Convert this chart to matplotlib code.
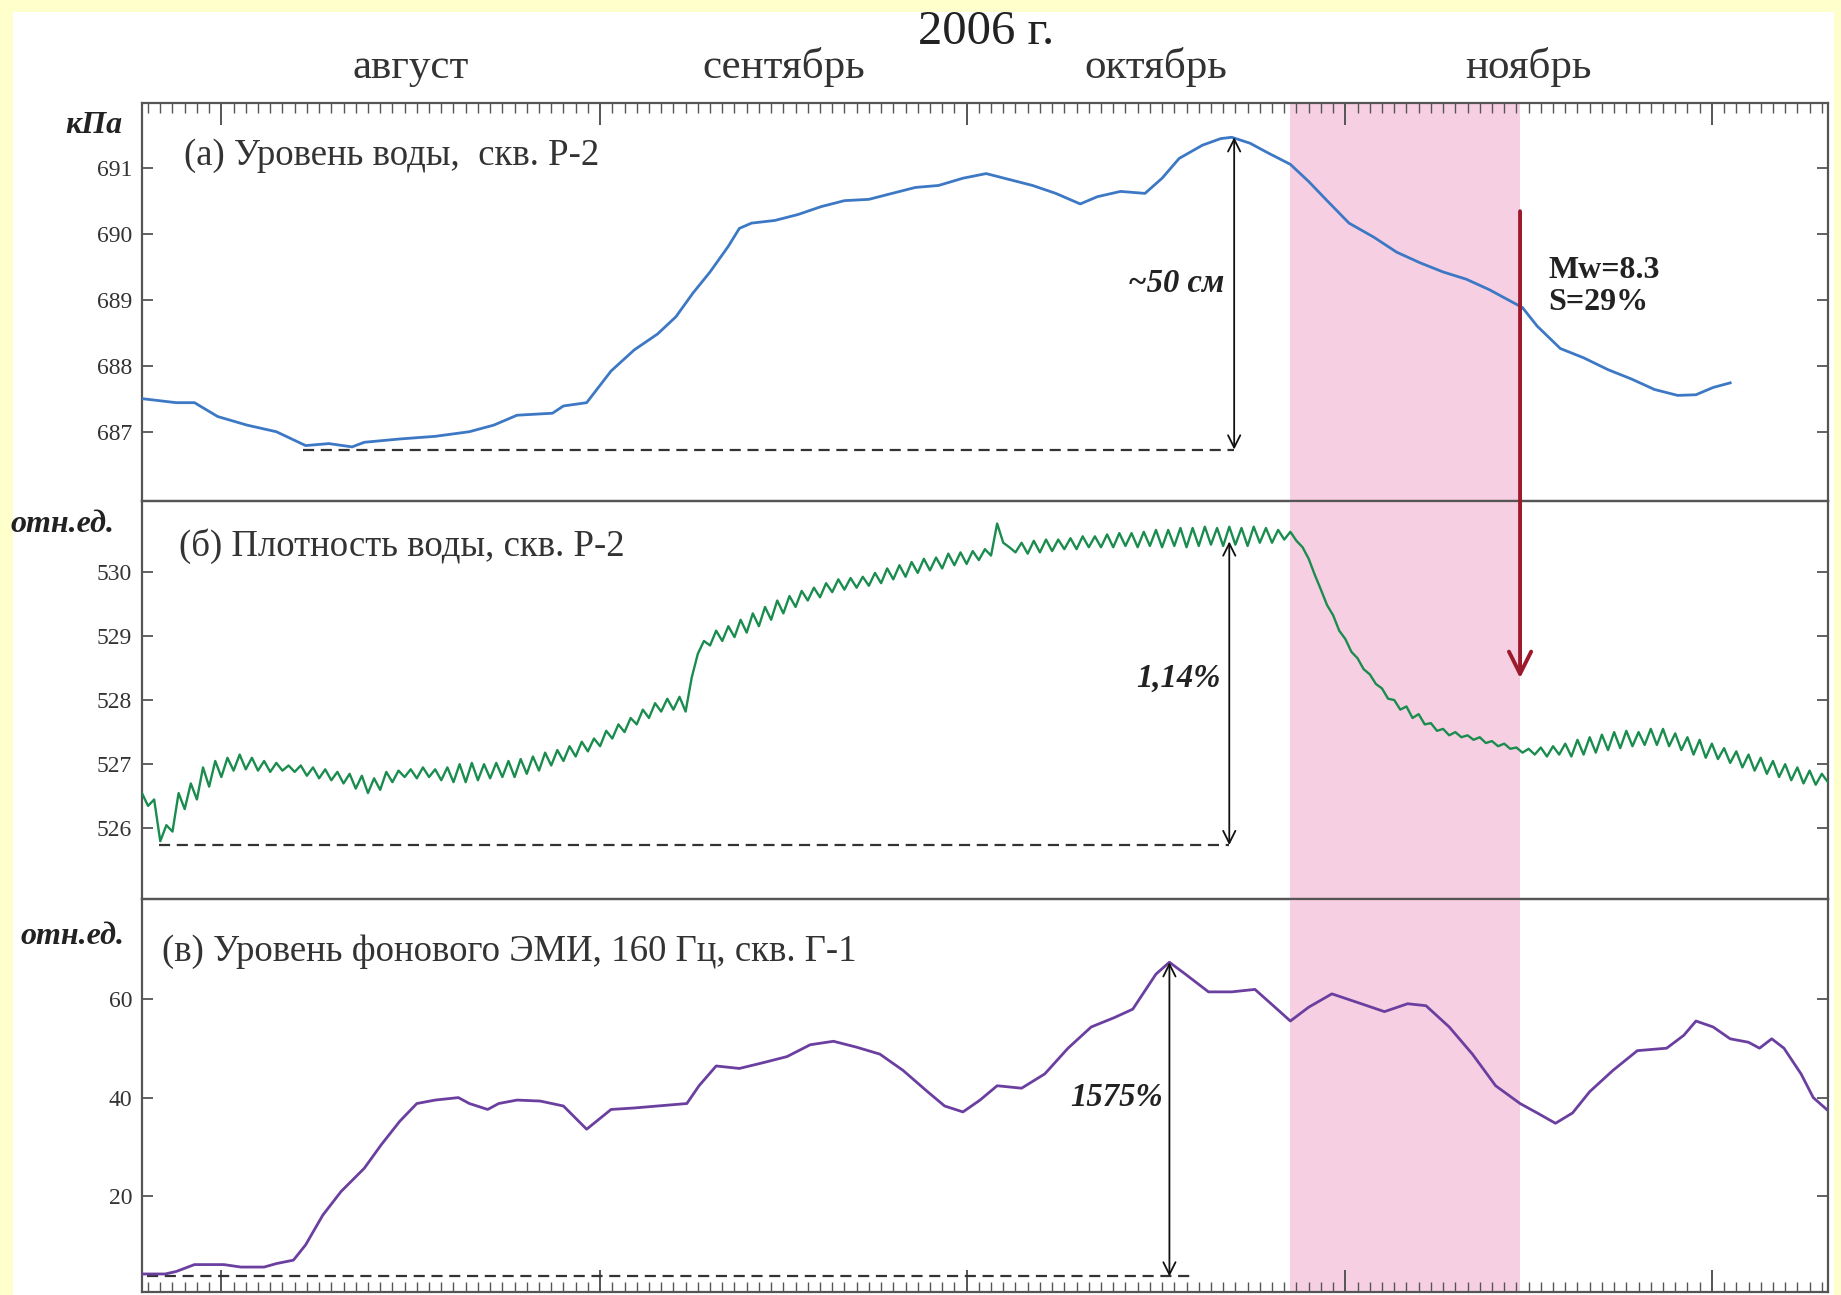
import numpy as np
import matplotlib.pyplot as plt
from matplotlib.patches import Rectangle, ConnectionPatch
from matplotlib.ticker import FixedLocator, MultipleLocator

plt.rcParams['font.family'] = ['Liberation Serif', 'DejaVu Serif']

# time axis: days counted from 1 August 2006
month_starts = [0, 31, 61, 92, 122]
month_names = ["август", "сентябрь", "октябрь", "ноябрь"]
year_label = "2006 г."
x_min, x_max = -6.5, 131.5

# (a) water level, kPa
level_days = [-6.45, -3.7, -2.2, -0.3, 2.1, 4.5, 6.9, 8.8, 10.7, 11.7, 14.6, 17.5, 20.3, 22.3, 24.2,
              27.1, 28.0, 29.9, 30.9, 31.9, 33.8, 35.7, 37.2, 38.6, 40.0, 41.5, 42.4, 43.4, 45.3,
              47.2, 49.1, 51.0, 53.0, 54.9, 56.8, 58.7, 60.7, 62.6, 64.5, 66.4, 68.3, 70.3, 71.7,
              73.6, 75.6, 77.0, 78.4, 80.3, 81.8, 82.7, 84.2, 85.6, 87.5, 89.0, 90.4, 92.3, 94.3,
              96.2, 98.1, 100.0, 101.9, 103.8, 106.5, 107.7, 109.6, 111.5, 113.5, 115.4, 117.3,
              119.2, 120.7, 122.1, 123.5]
level_kpa = [687.50, 687.44, 687.44, 687.23, 687.10, 687.00, 686.79, 686.82, 686.77, 686.84, 686.89,
             686.93, 687.00, 687.10, 687.25, 687.28, 687.39, 687.44, 687.68, 687.92, 688.24, 688.48,
             688.74, 689.10, 689.42, 689.81, 690.08, 690.16, 690.20, 690.29, 690.41, 690.50, 690.52,
             690.61, 690.70, 690.73, 690.84, 690.91, 690.82, 690.73, 690.61, 690.45, 690.56, 690.64,
             690.61, 690.84, 691.14, 691.34, 691.44, 691.46, 691.37, 691.23, 691.05, 690.79, 690.52,
             690.16, 689.95, 689.72, 689.56, 689.42, 689.31, 689.15, 688.88, 688.60, 688.26, 688.12,
             687.94, 687.80, 687.64, 687.55, 687.56, 687.67, 687.74]

# (b) water density, rel. units, sampled every half day from day -6.5
dens_start, dens_step = -6.5, 0.5
density = [
    526.55, 526.35, 526.45, 525.80, 526.05, 525.95, 526.55, 526.30, 526.70, 526.45,
    526.95, 526.65, 527.05, 526.80, 527.10, 526.90, 527.15, 526.92, 527.10, 526.90,
    527.05, 526.88, 527.02, 526.90, 526.98, 526.88, 526.98, 526.82, 526.95, 526.78,
    526.92, 526.75, 526.88, 526.70, 526.85, 526.62, 526.82, 526.55, 526.78, 526.60,
    526.88, 526.72, 526.90, 526.80, 526.92, 526.78, 526.95, 526.80, 526.92, 526.75,
    526.95, 526.72, 527.00, 526.72, 527.02, 526.75, 527.00, 526.78, 527.02, 526.80,
    527.05, 526.80, 527.08, 526.85, 527.12, 526.90, 527.18, 526.98, 527.22, 527.05,
    527.28, 527.12, 527.35, 527.20, 527.40, 527.28, 527.52, 527.40, 527.62, 527.50,
    527.72, 527.62, 527.85, 527.72, 527.95, 527.82, 528.02, 527.85, 528.05, 527.82,
    528.35, 528.72, 528.92, 528.85, 529.08, 528.92, 529.15, 528.98, 529.25, 529.05,
    529.35, 529.15, 529.45, 529.25, 529.55, 529.35, 529.62, 529.45, 529.70, 529.55,
    529.75, 529.60, 529.82, 529.68, 529.88, 529.72, 529.90, 529.75, 529.92, 529.78,
    529.98, 529.82, 530.05, 529.88, 530.10, 529.92, 530.15, 529.98, 530.20, 530.02,
    530.22, 530.05, 530.28, 530.10, 530.30, 530.12, 530.32, 530.18, 530.35, 530.25,
    530.75, 530.45, 530.38, 530.30, 530.45, 530.28, 530.48, 530.30, 530.50, 530.32,
    530.50, 530.35, 530.52, 530.35, 530.55, 530.38, 530.55, 530.38, 530.58, 530.38,
    530.60, 530.40, 530.60, 530.38, 530.62, 530.40, 530.65, 530.38, 530.65, 530.40,
    530.68, 530.38, 530.68, 530.40, 530.70, 530.42, 530.68, 530.40, 530.70, 530.42,
    530.68, 530.40, 530.70, 530.45, 530.68, 530.45, 530.65, 530.50, 530.62, 530.48,
    530.38, 530.20, 529.95, 529.72, 529.48, 529.32, 529.08, 528.95, 528.75, 528.65,
    528.48, 528.40, 528.25, 528.18, 528.02, 528.00, 527.85, 527.90, 527.72, 527.78,
    527.62, 527.64, 527.52, 527.55, 527.45, 527.50, 527.42, 527.45, 527.38, 527.42,
    527.33, 527.36, 527.28, 527.32, 527.24, 527.26, 527.18, 527.24, 527.15, 527.26,
    527.12, 527.28, 527.15, 527.32, 527.12, 527.38, 527.15, 527.42, 527.18, 527.46,
    527.22, 527.50, 527.25, 527.52, 527.28, 527.50, 527.30, 527.55, 527.30, 527.55,
    527.28, 527.48, 527.22, 527.42, 527.15, 527.38, 527.10, 527.32, 527.08, 527.25,
    527.02, 527.20, 526.95, 527.15, 526.90, 527.10, 526.85, 527.05, 526.80, 527.00,
    526.75, 526.95, 526.70, 526.90, 526.68, 526.85, 526.72,
]

# (c) background EMI level, 160 Hz, rel. units
emi_days = [-6.45, -4.6, -3.7, -2.2, 0.2, 1.6, 3.5, 4.5, 5.9, 6.9, 8.3, 9.8, 11.7, 13.1, 14.6, 16.0,
            17.5, 19.4, 20.3, 21.8, 22.7, 24.2, 26.1, 28.0, 29.9, 31.9, 33.8, 35.7, 38.1, 39.1,
            40.5, 42.4, 44.4, 46.3, 48.2, 50.1, 52.0, 53.9, 55.8, 57.8, 59.2, 60.7, 62.1, 63.5,
            65.5, 67.4, 69.3, 71.2, 73.1, 74.6, 76.5, 77.6, 78.9, 80.8, 82.7, 84.6, 86.1, 87.5,
            89.0, 90.9, 93.3, 95.2, 97.1, 98.6, 100.5, 102.4, 104.3, 106.3, 107.7, 109.2, 110.6,
            112.0, 113.9, 115.9, 118.3, 119.7, 120.7, 122.1, 123.5, 125.0, 125.9, 126.9, 127.9,
            129.3, 130.3, 131.4]
emi_level = [4.3, 4.3, 4.8, 6.2, 6.2, 5.7, 5.7, 6.4, 7.1, 10.2, 16.2, 21.0, 25.7, 30.5, 35.2, 38.8,
             39.5, 40.0, 38.8, 37.6, 38.8, 39.5, 39.3, 38.3, 33.6, 37.6, 37.9, 38.3, 38.8, 42.4,
             46.4, 45.9, 47.1, 48.3, 50.7, 51.4, 50.2, 48.8, 45.5, 41.2, 38.3, 37.1, 39.5, 42.4,
             41.9, 44.8, 50.0, 54.3, 56.2, 57.9, 65.0, 67.4, 65.0, 61.4, 61.4, 61.9, 58.6, 55.5,
             58.3, 61.0, 59.0, 57.4, 59.0, 58.6, 54.3, 48.8, 42.4, 38.8, 36.9, 34.8, 36.9,
             41.2, 45.5, 49.5, 50.0, 52.6, 55.5, 54.3, 51.9, 51.2, 50.0, 51.9, 50.0,
             44.8, 40.0, 37.6]

# precursor interval and earthquake (Mw 8.3, 15 Nov 2006)
band_start, band_end = 87.5, 106.3
quake_day = 106.3

# reference levels and amplitude arrows
level_base, level_peak, level_peak_day = 686.73, 691.46, 82.9
dens_base, dens_peak, dens_peak_day = 525.74, 530.47, 82.5
emi_base, emi_peak, emi_peak_day = 3.8, 67.4, 77.6

fig = plt.figure(figsize=(18.41, 12.95), dpi=100, facecolor='#ffffcc')
fig.patches.append(Rectangle((13 / 1841, 0), 1821 / 1841, 1 - 12 / 1295, transform=fig.transFigure,
                             facecolor='white', edgecolor='none', zorder=-10))

left, width = 0.0771, 0.9158
ax_a = fig.add_axes([left, 0.6131, width, 0.3074])
ax_b = fig.add_axes([left, 0.3058, width, 0.3073], sharex=ax_a)
ax_c = fig.add_axes([left, 0.0025, width, 0.3033], sharex=ax_a)

spine_c = '#555555'
for ax in (ax_a, ax_b, ax_c):
    ax.set_facecolor('none')
    ax.axvspan(band_start, band_end, color='#f7cfe2', lw=0, zorder=0)
    for s in ax.spines.values():
        s.set_color(spine_c)
        s.set_linewidth(1.6)
    ax.tick_params(axis='y', which='major', direction='in', length=8, width=1.3, color=spine_c,
                   left=True, right=True, labelsize=17, labelcolor='#333333', pad=7)
    ax.set_xlim(x_min, x_max)

ax_a.xaxis.set_major_locator(FixedLocator(month_starts))
ax_a.xaxis.set_minor_locator(MultipleLocator(1))
ax_a.tick_params(axis='x', which='both', direction='in', top=True, bottom=False,
                 labeltop=False, labelbottom=False, color=spine_c)
ax_a.tick_params(axis='x', which='major', length=16, width=1.4)
ax_a.tick_params(axis='x', which='minor', length=7, width=1.0)
ax_b.tick_params(axis='x', which='both', top=False, bottom=False, labelbottom=False)
ax_c.tick_params(axis='x', which='both', direction='in', top=False, bottom=True,
                 labelbottom=False, color=spine_c)
ax_c.tick_params(axis='x', which='major', length=16, width=1.4)
ax_c.tick_params(axis='x', which='minor', length=7, width=1.0)

note_kw = dict(fontsize=23.5, fontweight='bold', style='italic', color='#222222')
arrow_kw = dict(arrowstyle='<->', lw=1.3, color='#111111', mutation_scale=22, shrinkA=0, shrinkB=0)
dash_kw = dict(ls=(0, (5, 3)), color='#333333', lw=1.6)

# panel (a)
ax_a.plot(level_days, level_kpa, color='#3d78c5', lw=2.0, zorder=3)
ax_a.set_ylim(685.95, 691.98)
ax_a.set_yticks([687, 688, 689, 690, 691])
ax_a.plot([6.7, level_peak_day], [level_base, level_base], **dash_kw)
ax_a.annotate('', xy=(level_peak_day, level_peak), xytext=(level_peak_day, level_base),
              arrowprops=arrow_kw)
ax_a.text(82.1, 689.24, '~50 см', ha='right', va='center', **note_kw)
ax_a.text(108.6, 689.2, 'Mw=8.3\nS=29%', ha='left', va='center', fontsize=23, fontweight='bold',
          linespacing=1.1, color='#222222')
ax_a.text(0.0249, 0.867, '(а) Уровень воды,  скв. Р-2', transform=ax_a.transAxes,
          ha='left', va='center', fontsize=26.5, color='#333333')

# panel (b)
t_dens = dens_start + dens_step * np.arange(len(density))
ax_b.plot(t_dens, density, color='#1a8c4e', lw=1.7, zorder=3)
ax_b.set_ylim(524.9, 531.1)
ax_b.set_yticks([526, 527, 528, 529, 530])
ax_b.plot([-5.1, dens_peak_day], [dens_base, dens_base], **dash_kw)
ax_b.annotate('', xy=(dens_peak_day, dens_peak), xytext=(dens_peak_day, dens_base),
              arrowprops=arrow_kw)
ax_b.text(81.8, 528.34, '1,14%', ha='right', va='center', **note_kw)
ax_b.text(0.0217, 0.887, '(б) Плотность воды, скв. Р-2', transform=ax_b.transAxes,
          ha='left', va='center', fontsize=26.5, color='#333333')

# panel (c)
ax_c.plot(emi_days, emi_level, color='#6b3fa0', lw=2.0, zorder=3)
ax_c.set_ylim(0.7, 80.2)
ax_c.set_yticks([20, 40, 60])
ax_c.plot([-6.1, 79.4], [emi_base, emi_base], **dash_kw)
ax_c.annotate('', xy=(emi_peak_day, emi_peak), xytext=(emi_peak_day, emi_base),
              arrowprops=arrow_kw)
ax_c.text(77.1, 40, '1575%', ha='right', va='center', **note_kw)
ax_c.text(0.0119, 0.867, '(в) Уровень фонового ЭМИ, 160 Гц, скв. Г-1', transform=ax_c.transAxes,
          ha='left', va='center', fontsize=26.5, color='#333333')

# earthquake arrow crossing panels (a) and (b)
quake = ConnectionPatch(xyA=(quake_day, 690.34), coordsA=ax_a.transData,
                        xyB=(quake_day, 528.34), coordsB=ax_b.transData,
                        arrowstyle='->', color='#9b1b2c', lw=2.8, mutation_scale=40,
                        shrinkA=0, shrinkB=0, zorder=5)
fig.add_artist(quake)

# month names and year above the top axis
for i, name in enumerate(month_names):
    mid = 0.5 * (month_starts[i] + month_starts[i + 1])
    ax_a.text(mid, 1.04, name, transform=ax_a.get_xaxis_transform(), ha='center',
              va='bottom', fontsize=31, color='#333333', clip_on=False)
fig.text(0.5357, 0.9755, year_label, ha='center', va='center', fontsize=35, color='#222222')

# units
unit_kw = dict(ha='center', va='center', fontsize=23, fontweight='bold', style='italic',
               color='#222222')
fig.text(0.051, 0.903, 'кПа', **unit_kw)
fig.text(0.034, 0.595, 'отн.ед.', **unit_kw)
fig.text(0.0395, 0.277, 'отн.ед.', **unit_kw)

fig.savefig('out.png', dpi=100, facecolor=fig.get_facecolor())
